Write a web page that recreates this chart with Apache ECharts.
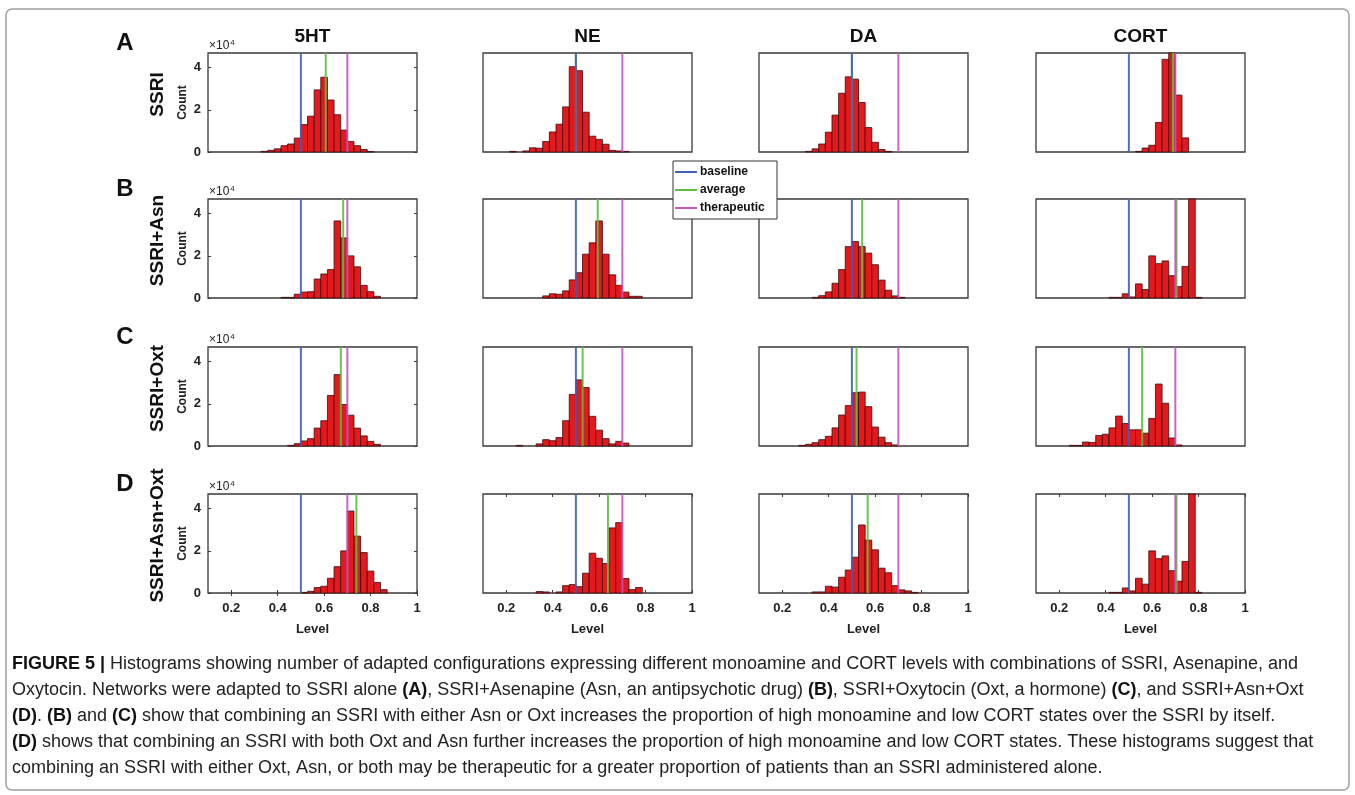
<!DOCTYPE html>
<html>
<head>
<meta charset="utf-8">
<script src="https://cdn.jsdelivr.net/npm/echarts/dist/echarts.min.js"></script>
<style>
html,body{margin:0;padding:0;background:#fff;}
#chart{width:1355px;height:795px;}
</style>
</head>
<body>
<div id="chart"></div>
<script>
// ---------------- data ----------------
const COLUMNS = ['5HT', 'NE', 'DA', 'CORT'];
const ROWS = ['SSRI', 'SSRI+Asn', 'SSRI+Oxt', 'SSRI+Asn+Oxt'];
const LETTERS = ['A', 'B', 'C', 'D'];
const X_TICKS = [0.2, 0.4, 0.6, 0.8, 1];
const Y_TICKS = [0, 2, 4];           // x 10^4
const BIN_WIDTH = 0.0286;
const BIN_CENTERS = [0.2286, 0.2571, 0.2857, 0.3143, 0.3429, 0.3714, 0.4, 0.4286, 0.4571, 0.4857, 0.5143,
  0.5429, 0.5714, 0.6, 0.6286, 0.6571, 0.6857, 0.7143, 0.7429, 0.7714, 0.8, 0.8286, 0.8571];

// counts in units of 10^4, aligned with BIN_CENTERS
const SSRI_5HT  = [0,0,0,0,0.03,0.08,0.15,0.3,0.38,0.66,1.3,1.7,2.95,3.55,2.47,1.77,1.04,0.5,0.3,0.12,0.02,0,0];
const SSRI_NE   = [0.03,0,0.05,0.2,0.18,0.5,0.95,1.32,2.14,4.05,3.86,1.89,0.75,0.6,0.37,0.08,0.05,0.03,0,0,0,0,0];
const SSRI_DA   = [0,0,0,0.03,0.15,0.38,0.94,1.75,2.79,3.57,3.46,2.35,1.16,0.46,0.12,0.03,0,0,0,0,0,0,0];
const SSRI_CORT = [0,0,0,0,0,0,0,0,0,0,0,0.03,0.19,0.32,1.4,4.4,4.7,2.7,0.67,0,0,0,0];

const ASN_5HT  = [0,0,0,0,0,0,0,0.03,0.03,0.18,0.28,0.3,0.9,1.14,1.35,3.66,2.85,2.0,1.48,0.6,0.3,0.08,0];
const ASN_NE   = [0,0,0,0,0,0.1,0.2,0.18,0.34,0.86,1.2,2.08,2.62,3.66,2.08,1.1,0.6,0.28,0.08,0.08,0,0,0];
const ASN_DA   = [0,0,0,0,0.03,0.11,0.29,0.7,1.35,2.44,2.68,2.44,2.13,1.58,0.85,0.37,0.1,0.03,0,0,0,0,0];
const ASN_CORT = [0,0,0,0,0,0,0,0.03,0.03,0.2,0.05,0.67,0.4,2.0,1.63,1.76,1.06,0.54,1.5,6.0,0.03,0,0];

const OXT_5HT  = [0,0,0,0,0,0,0,0,0.03,0.11,0.24,0.35,0.85,1.2,2.4,3.39,1.97,1.46,0.85,0.48,0.22,0.08,0];
const OXT_NE   = [0,0.03,0,0,0.1,0.3,0.25,0.4,1.2,2.45,3.14,2.78,1.41,0.75,0.35,0.1,0.22,0.14,0,0,0,0,0];
const OXT_DA   = [0,0,0.03,0.08,0.16,0.3,0.46,0.86,1.47,1.92,2.53,2.56,1.87,0.9,0.42,0.16,0.05,0,0,0,0,0,0];
const OXT_CORT = [0,0.03,0.03,0.19,0.17,0.5,0.56,0.86,1.42,1.07,0.77,0.77,0.61,1.31,2.94,2.03,0.38,0.05,0,0,0,0,0];

const BOTH_5HT  = [0,0,0,0,0,0,0,0,0,0,0.03,0.08,0.26,0.32,0.7,1.25,2.0,3.89,2.7,1.92,1.04,0.5,0.16];
const BOTH_NE   = [0,0,0,0,0.07,0.05,0,0.05,0.35,0.4,0.3,0.94,1.89,1.65,1.4,3.09,3.34,0.69,0.16,0.26,0,0,0];
const BOTH_DA   = [0,0,0,0,0.05,0.05,0.32,0.28,0.75,1.09,1.7,3.23,2.51,2.05,1.18,0.96,0.35,0.15,0.1,0.03,0,0,0];
const BOTH_CORT = [0,0,0,0,0,0,0,0.03,0.03,0.24,0.1,0.7,0.42,2.0,1.63,1.76,1.06,0.56,1.5,6.0,0.03,0,0];

const BASELINE = 0.5;
const THERAPEUTIC = 0.7;
const AVERAGE_SSRI = [0.607, 0.5, 0.5, 0.69];
const AVERAGE_ASN  = [0.682, 0.594, 0.544, 0.705];
const AVERAGE_OXT  = [0.672, 0.529, 0.52, 0.557];
const AVERAGE_BOTH = [0.739, 0.638, 0.568, 0.705];

const LEGEND_NAMES = ['baseline', 'average', 'therapeutic'];

const CAPTION = [
  '{b|FIGURE 5 |} Histograms showing number of adapted configurations expressing different monoamine and CORT levels with combinations of SSRI, Asenapine, and',
  'Oxytocin. Networks were adapted to SSRI alone {b|(A)}, SSRI+Asenapine (Asn, an antipsychotic drug) {b|(B)}, SSRI+Oxytocin (Oxt, a hormone) {b|(C)}, and SSRI+Asn+Oxt',
  '{b|(D)}. {b|(B)} and {b|(C)} show that combining an SSRI with either Asn or Oxt increases the proportion of high monoamine and low CORT states over the SSRI by itself.',
  '{b|(D)} shows that combining an SSRI with both Oxt and Asn further increases the proportion of high monoamine and low CORT states. These histograms suggest that',
  'combining an SSRI with either Oxt, Asn, or both may be therapeutic for a greater proportion of patients than an SSRI administered alone.'
];

// ---------------- layout / style ----------------
const COUNTS = [
  [SSRI_5HT, SSRI_NE, SSRI_DA, SSRI_CORT],
  [ASN_5HT, ASN_NE, ASN_DA, ASN_CORT],
  [OXT_5HT, OXT_NE, OXT_DA, OXT_CORT],
  [BOTH_5HT, BOTH_NE, BOTH_DA, BOTH_CORT]
];
const AVERAGES = [AVERAGE_SSRI, AVERAGE_ASN, AVERAGE_OXT, AVERAGE_BOTH];

const COL_LEFT = [208, 483, 759, 1036];
const PW = 209;
const ROW_TOP = [53, 199, 347, 494];
const PH = 99;
const XMIN = 0.1, XMAX = 1, YMAX = 4.7;

const FONT = "'Liberation Sans', Arial, Helvetica, sans-serif";
const BAR_FILL = '#e3191e';
const BAR_EDGE = '#3a0c0c';
const C_BASE = '#4060b8';
const C_AVG = '#5cbf3f';
const C_THER = '#c455c4';
const AXIS_C = '#3a3a3a';

const option = {
  animation: false,
  backgroundColor: '#ffffff',
  grid: [], xAxis: [], yAxis: [], series: [], graphic: []
};

for (let r = 0; r < 4; r++) {
  for (let c = 0; c < 4; c++) {
    const p = r * 4 + c;
    option.grid.push({
      left: COL_LEFT[c], top: ROW_TOP[r], width: PW, height: PH,
      show: true, borderColor: AXIS_C, borderWidth: 1.3, backgroundColor: '#fff', containLabel: false
    });
    option.xAxis.push({
      gridIndex: p, type: 'value', min: XMIN, max: XMAX,
      axisLine: { show: false }, splitLine: { show: false },
      axisTick: { show: r === 3, inside: true, length: 3, customValues: X_TICKS, lineStyle: { color: AXIS_C } },
      axisLabel: {
        show: r === 3, customValues: X_TICKS, margin: 9,
        fontFamily: FONT, fontWeight: 'bold', fontSize: 13, color: '#222'
      },
      name: r === 3 ? 'Level' : '', nameLocation: 'middle', nameGap: 30,
      nameTextStyle: { fontFamily: FONT, fontWeight: 'bold', fontSize: 13, color: '#222' }
    });
    option.yAxis.push({
      gridIndex: p, type: 'value', min: 0, max: YMAX,
      axisLine: { show: false }, splitLine: { show: false },
      axisTick: { show: c === 0, inside: true, length: 3, customValues: Y_TICKS, lineStyle: { color: AXIS_C } },
      axisLabel: {
        show: c === 0, customValues: Y_TICKS, margin: 7,
        fontFamily: FONT, fontWeight: 'bold', fontSize: 13, color: '#222'
      },
      name: c === 0 ? 'Count' : '', nameLocation: 'middle', nameGap: 19, nameRotate: 90,
      nameTextStyle: { fontFamily: FONT, fontWeight: 'bold', fontSize: 12, color: '#222' }
    });

    const counts = COUNTS[r][c];
    const data = [];
    BIN_CENTERS.forEach((x, i) => { if (counts[i] > 0) data.push([x, counts[i]]); });
    option.series.push({
      type: 'custom', xAxisIndex: p, yAxisIndex: p, z: 2,
      data: data,
      renderItem: function (params, api) {
        const x = api.value(0), y = api.value(1);
        const a = api.coord([x - BIN_WIDTH / 2, 0]);
        const b = api.coord([x + BIN_WIDTH / 2, y]);
        const rect = echarts.graphic.clipRectByRect(
          { x: a[0], y: b[1], width: b[0] - a[0], height: a[1] - b[1] },
          { x: params.coordSys.x, y: params.coordSys.y, width: params.coordSys.width, height: params.coordSys.height }
        );
        if (!rect) return null;
        return { type: 'rect', shape: rect, style: { fill: BAR_FILL, stroke: BAR_EDGE, lineWidth: 0.8 } };
      }
    });
    const vlines = [
      [AVERAGES[r][c], C_AVG, 'average'],
      [BASELINE, C_BASE, 'baseline'],
      [THERAPEUTIC, C_THER, 'therapeutic']
    ];
    vlines.forEach(([v, col, nm]) => {
      option.series.push({
        type: 'line', name: nm, xAxisIndex: p, yAxisIndex: p, z: 4,
        data: [[v, 0], [v, YMAX]], symbol: 'none', silent: true,
        lineStyle: { color: col, width: 2, opacity: 0.9 }
      });
    });
  }
}

// mirrored ticks: right side of first column, top side of last row
for (let r = 0; r < 4; r++) {
  option.yAxis.push({
    gridIndex: r * 4, type: 'value', min: 0, max: YMAX, position: 'right',
    axisLine: { show: false }, splitLine: { show: false }, axisLabel: { show: false },
    axisTick: { show: true, inside: true, length: 3, customValues: Y_TICKS, lineStyle: { color: AXIS_C } }
  });
}
for (let c = 0; c < 4; c++) {
  option.xAxis.push({
    gridIndex: 12 + c, type: 'value', min: XMIN, max: XMAX, position: 'top',
    axisLine: { show: false }, splitLine: { show: false }, axisLabel: { show: false },
    axisTick: { show: true, inside: true, length: 3, customValues: X_TICKS, lineStyle: { color: AXIS_C } }
  });
}

// ---------------- graphic texts ----------------
const G = option.graphic;
G.push({
  type: 'rect', z: -10, silent: true,
  shape: { x: 6, y: 9, width: 1343, height: 781, r: 6 },
  style: { fill: 'none', stroke: '#a0a0a0', lineWidth: 1.5 }
});
COLUMNS.forEach((t, c) => {
  G.push({
    type: 'text', x: COL_LEFT[c] + PW / 2, y: 37,
    style: { text: t, font: "bold 19px 'Liberation Sans', Arial, sans-serif", fill: '#111', textAlign: 'center', textVerticalAlign: 'middle' }
  });
});
for (let r = 0; r < 4; r++) {
  G.push({
    type: 'text', x: 125, y: ROW_TOP[r] - 10,
    style: { text: LETTERS[r], font: "bold 24px 'Liberation Sans', Arial, sans-serif", fill: '#111', textAlign: 'center', textVerticalAlign: 'middle' }
  });
  G.push({
    type: 'text', x: 158, y: ROW_TOP[r] + PH / 2 - 8, rotation: Math.PI / 2,
    style: { text: ROWS[r], font: "bold 19px 'Liberation Sans', Arial, sans-serif", fill: '#111', textAlign: 'center', textVerticalAlign: 'middle' }
  });
  G.push({
    type: 'text', x: COL_LEFT[0] + 1, y: ROW_TOP[r] - 7,
    style: {
      text: '×10{s|4}', fontFamily: FONT, fontSize: 12, fill: '#222', textAlign: 'left', textVerticalAlign: 'middle',
      rich: { s: { fontFamily: FONT, fontSize: 8, fill: '#222', verticalAlign: 'top', padding: [0, 0, 7, 1] } }
    }
  });
}
// legend
const LX = 673, LY = 161, LW = 104, LH = 58;
G.push({ type: 'rect', z: 20, shape: { x: LX, y: LY, width: LW, height: LH }, style: { fill: '#fff', stroke: '#333', lineWidth: 1 } });
[C_BASE, C_AVG, C_THER].forEach((col, i) => {
  const yy = LY + 11 + i * 18;
  G.push({ type: 'line', z: 21, shape: { x1: LX + 2, y1: yy, x2: LX + 24, y2: yy }, style: { stroke: col, lineWidth: 2 } });
  G.push({
    type: 'text', z: 21, x: LX + 27, y: yy,
    style: { text: LEGEND_NAMES[i], font: "bold 12px 'Liberation Sans', Arial, sans-serif", fill: '#111', textAlign: 'left', textVerticalAlign: 'middle' }
  });
});
// caption
CAPTION.forEach((line, i) => {
  G.push({
    type: 'text', x: 12, y: 664 + i * 26,
    style: {
      text: line, fontFamily: FONT, fontSize: 18, fill: '#222', textAlign: 'left', textVerticalAlign: 'middle',
      rich: { b: { fontFamily: FONT, fontSize: 18, fontWeight: 'bold', fill: '#111' } }
    }
  });
});

const chart = echarts.init(document.getElementById('chart'), null, { renderer: 'canvas' });
chart.setOption(option);
</script>
</body>
</html>
